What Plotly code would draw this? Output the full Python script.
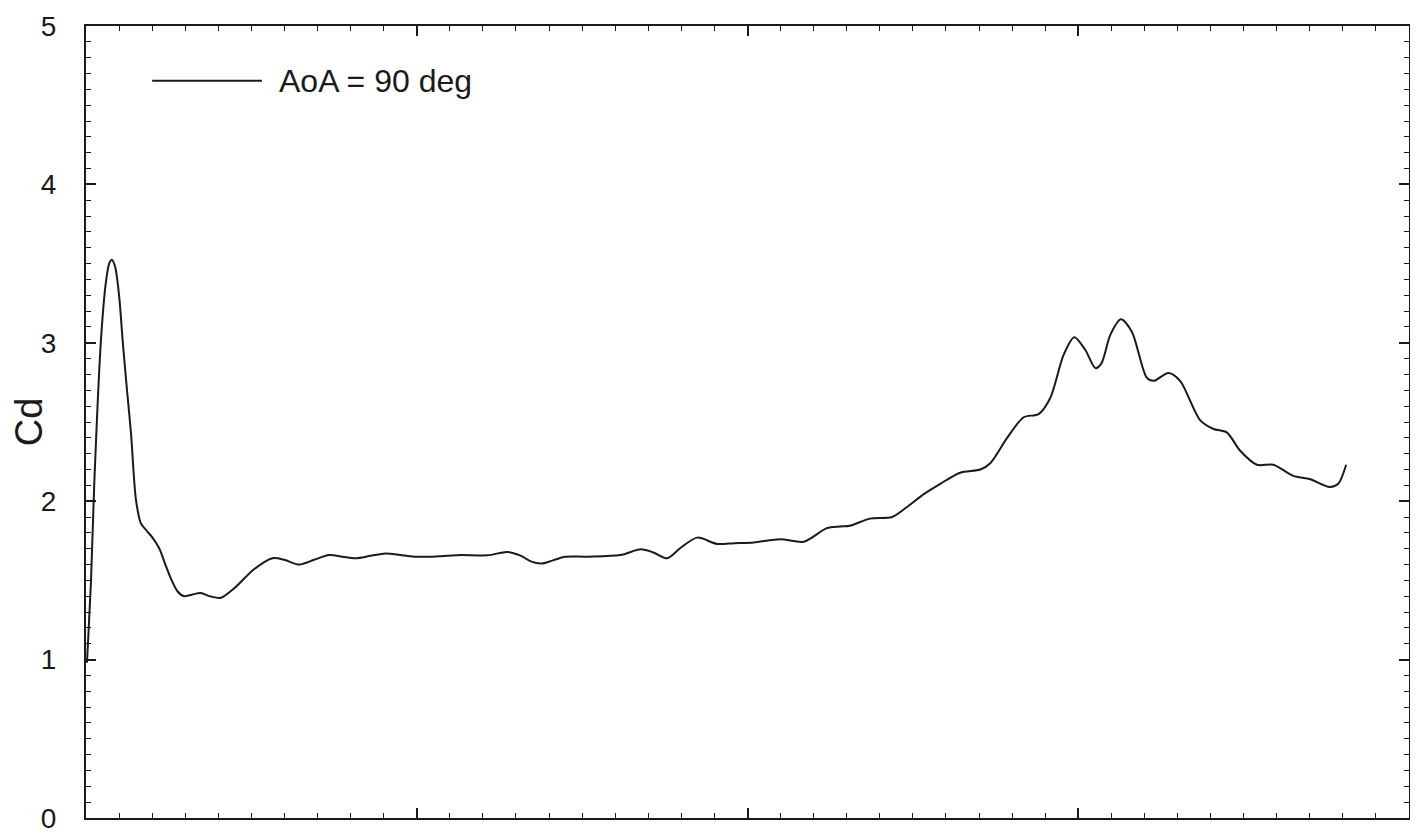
import plotly.graph_objects as go

# Digitised curve: Cd vs x (x-axis labels not visible in the reference)
x_vals = [0.003, 0.015, 0.025, 0.045, 0.060, 0.070, 0.078, 0.088, 0.100, 0.111,
          0.124, 0.136, 0.151, 0.166, 0.185, 0.201, 0.222, 0.240, 0.257, 0.277,
          0.297, 0.320, 0.347, 0.375, 0.408, 0.448, 0.508, 0.564, 0.600, 0.644,
          0.690, 0.734, 0.775, 0.815, 0.860, 0.906, 0.950, 0.992, 1.050, 1.093,
          1.133, 1.214, 1.274, 1.314, 1.345, 1.375, 1.410, 1.445, 1.516, 1.616,
          1.677, 1.717, 1.757, 1.798, 1.848, 1.908, 1.960, 2.019, 2.100, 2.170,
          2.240, 2.280, 2.310, 2.370, 2.437, 2.480, 2.533, 2.583, 2.643, 2.704,
          2.734, 2.785, 2.835, 2.880, 2.915, 2.956, 2.988, 3.021, 3.052, 3.070,
          3.097, 3.129, 3.162, 3.207, 3.228, 3.273, 3.308, 3.369, 3.409, 3.449,
          3.489, 3.540, 3.590, 3.650, 3.700, 3.760, 3.786, 3.810]
cd_vals = [0.98, 1.49, 2.11, 3.01, 3.38, 3.50, 3.525, 3.48, 3.30, 3.01,
           2.70, 2.43, 2.01, 1.86, 1.81, 1.77, 1.70, 1.60, 1.51, 1.43,
           1.40, 1.41, 1.42, 1.40, 1.39, 1.45, 1.57, 1.64, 1.63, 1.60,
           1.63, 1.66, 1.65, 1.64, 1.655, 1.67, 1.66, 1.65, 1.65, 1.655,
           1.66, 1.658, 1.68, 1.656, 1.62, 1.606, 1.625, 1.648, 1.65, 1.66,
           1.696, 1.675, 1.64, 1.706, 1.77, 1.73, 1.735, 1.74, 1.76, 1.744,
           1.83, 1.84, 1.845, 1.89, 1.90, 1.96, 2.045, 2.11, 2.18, 2.20,
           2.24, 2.40, 2.53, 2.55, 2.65, 2.925, 3.035, 2.956, 2.84, 2.87,
           3.05, 3.148, 3.07, 2.78, 2.76, 2.81, 2.76, 2.51, 2.456, 2.435,
           2.32, 2.23, 2.23, 2.16, 2.14, 2.09, 2.11, 2.23]

y_ticks = [0, 1, 2, 3, 4, 5]
series_name = "AoA = 90 deg"
y_title = "Cd"

FONT = "Liberation Sans, Arial, Helvetica, sans-serif"
INK = "#1a1a1a"

fig = go.Figure()
fig.add_trace(go.Scatter(
    x=x_vals, y=cd_vals, mode="lines",
    line=dict(color=INK, width=2, shape="spline", smoothing=0.8),
    name=series_name, showlegend=False,
))

minor_ticks = dict(dtick=0.1, ticks="inside", ticklen=5, tickwidth=1.2, tickcolor=INK)
axis_common = dict(
    showgrid=False, zeroline=False, automargin=False,
    showline=True, linecolor=INK, linewidth=2,
    ticks="inside", ticklen=10, tickwidth=1.5, tickcolor=INK,
    minor=minor_ticks,
)

fig.update_layout(
    xaxis=dict(range=[0, 4], dtick=1, tick0=0, showticklabels=False, **axis_common),
    yaxis=dict(
        range=[0, 5], tickvals=y_ticks, ticktext=[str(v) for v in y_ticks],
        tickfont=dict(family=FONT, size=28, color=INK),
        ticklabelstandoff=22, ticklabeloverflow="allow",
        title=dict(text=y_title, font=dict(family=FONT, size=38, color=INK), standoff=14),
        **axis_common,
    ),
    # mirrored frame with minor ticks on top and right
    xaxis2=dict(range=[0, 4], dtick=1, tick0=0, showticklabels=False,
                overlaying="x", side="top", matches="x", **axis_common),
    yaxis2=dict(range=[0, 5], dtick=1, tick0=0, showticklabels=False,
                overlaying="y", side="right", matches="y", **axis_common),
)
# invisible helper trace so the mirrored axes are drawn
fig.add_trace(go.Scatter(x=[x_vals[0]], y=[cd_vals[0]], xaxis="x2", yaxis="y2",
                         mode="markers", marker=dict(opacity=0), showlegend=False,
                         hoverinfo="skip"))

# Custom legend (long line sample + label), as in the reference
fig.add_shape(type="line", xref="paper", yref="paper",
              x0=0.050, x1=0.133, y0=0.931, y1=0.931,
              line=dict(color=INK, width=2))
fig.add_annotation(text=series_name, xref="paper", yref="paper",
                   x=0.144, y=0.931, xanchor="left", yanchor="middle",
                   showarrow=False,
                   font=dict(family=FONT, size=32, color=INK))

# margins compensate for the page's 8px body margin
fig.update_layout(
    width=1418, height=837,
    margin=dict(l=78, r=17, t=18, b=27),
    paper_bgcolor="white", plot_bgcolor="white",
    font=dict(family=FONT, color=INK),
)

fig.write_html("out.html")
